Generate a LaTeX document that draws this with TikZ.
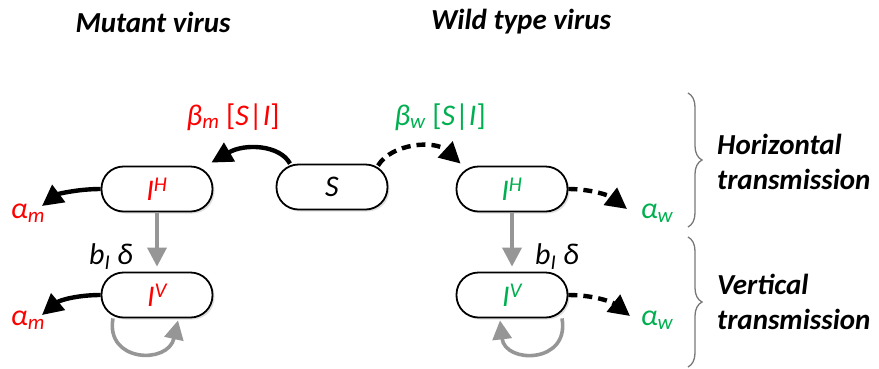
\documentclass[tikz,border=0pt]{standalone}
\usepackage{fontspec}
\setmainfont{Carlito}
\usepackage{xcolor}
\usetikzlibrary{arrows.meta,decorations.pathreplacing,shadows}

\definecolor{mutred}{RGB}{255,0,0}
\definecolor{wildgreen}{RGB}{0,176,80}
\definecolor{vertgray}{RGB}{150,150,150}

\tikzset{
  compart/.style={draw,line width=1.8pt,fill=white,rounded corners=22pt,
    minimum width=111pt,minimum height=45pt,inner sep=0pt,
    drop shadow={shadow xshift=2pt,shadow yshift=-2pt,opacity=0.25,fill=gray}},
  flow/.style={line width=4.4pt,-{Triangle[length=21pt,width=21pt]}},
  vflow/.style={line width=3.6pt,color=vertgray,-{Triangle[length=19pt,width=19pt]}},
  lbl/.style={font=\fontsize{30}{36}\selectfont\itshape,inner sep=0pt},
  headline/.style={font=\fontsize{29}{35}\selectfont\bfseries\itshape,inner sep=0pt},
  brc/.style={draw=vertgray!80!black,line width=1.3pt,decorate,decoration={brace,amplitude=14pt}}
}

\begin{document}
\begin{tikzpicture}[x=1pt,y=-1pt]
  \useasboundingbox (0,0) rectangle (879,368);

  % titles
  \node (tmut) at (153,22) [headline] {Mutant virus};
  \node (twild) at (521,22) [headline] {Wild type virus};

  % compartments
  \node (S) at (332,187) [compart,lbl] {S};
  \node (IHm) at (157,189) [compart,lbl,text=mutred] {I\textsuperscript{H}};
  \node (IVm) at (157,295) [compart,lbl,text=mutred] {I\textsuperscript{V}};
  \node (IHw) at (512,189) [compart,lbl,text=wildgreen] {I\textsuperscript{H}};
  \node (IVw) at (512,295) [compart,lbl,text=wildgreen] {I\textsuperscript{V}};

  % rates
  \node (bm) at (233,117) [lbl,text=mutred] {β\textsubscript{m} {\upshape[}S{\upshape|}I{\upshape]}};
  \node (bw) at (440,117) [lbl,text=wildgreen] {β\textsubscript{w} {\upshape[}S{\upshape|}I{\upshape]}};
  \node (am1) at (28,213) [lbl,text=mutred] {α\textsubscript{m}};
  \node (am2) at (28,320) [lbl,text=mutred] {α\textsubscript{m}};
  \node (aw1) at (657,213) [lbl,text=wildgreen] {α\textsubscript{w}};
  \node (aw2) at (657,320) [lbl,text=wildgreen] {α\textsubscript{w}};
  \node (dm) at (111,257) [lbl] {b\textsubscript{I} δ};
  \node (dw) at (557,257) [lbl] {b\textsubscript{I} δ};

  % infection
  \draw[flow] ([xshift=-42pt]S.north) .. controls (280,145) and (245,143) .. ([xshift=-2pt,yshift=3pt]IHm.north east);
  \draw[flow,dash pattern=on 9pt off 6pt] ([xshift=46pt,yshift=-2pt]S.north) .. controls (392,143) and (435,140) .. ([xshift=5pt,yshift=2pt]IHw.north west);

  % virulence
  \draw[flow] (IHm.west) .. controls (78,189) and (58,194) .. ([xshift=14pt,yshift=7pt]am1.center);
  \draw[flow] (IVm.west) .. controls (78,295) and (60,300) .. ([xshift=14pt,yshift=5pt]am2.center);
  \draw[flow,dash pattern=on 9pt off 6pt] (IHw.east) .. controls (592,189) and (610,196) .. ([xshift=-30pt,yshift=4pt]aw1.center);
  \draw[flow,dash pattern=on 9pt off 6pt] (IVw.east) .. controls (594,295) and (612,302) .. ([xshift=-27pt,yshift=4pt]aw2.center);

  % vertical transmission
  \draw[vflow] (IHm.south) -- ([yshift=5pt]IVm.north);
  \draw[vflow] (IHw.south) -- ([yshift=5pt]IVw.north);
  \draw[vflow] ([xshift=-44pt]IVm.south) .. controls (105,362) and (168,365) .. ([xshift=21pt,yshift=-2pt]IVm.south);
  \draw[vflow] ([xshift=50pt]IVw.south) .. controls (570,364) and (505,364) .. ([xshift=-12pt,yshift=-2pt]IVw.south);

  % braces
  \coordinate (htop) at (688,93);
  \coordinate (hbot) at (688,227);
  \coordinate (vtop) at (688,237);
  \coordinate (vbot) at (688,367);
  \draw[brc] (htop) -- (hbot);
  \draw[brc] (vtop) -- (vbot);
  \node (hlabel) at (717,162) [headline,anchor=west,align=left] {Horizontal\\transmission};
  \node (vlabel) at (717,302) [headline,anchor=west,align=left] {Vertical\\transmission};
\end{tikzpicture}
\end{document}
